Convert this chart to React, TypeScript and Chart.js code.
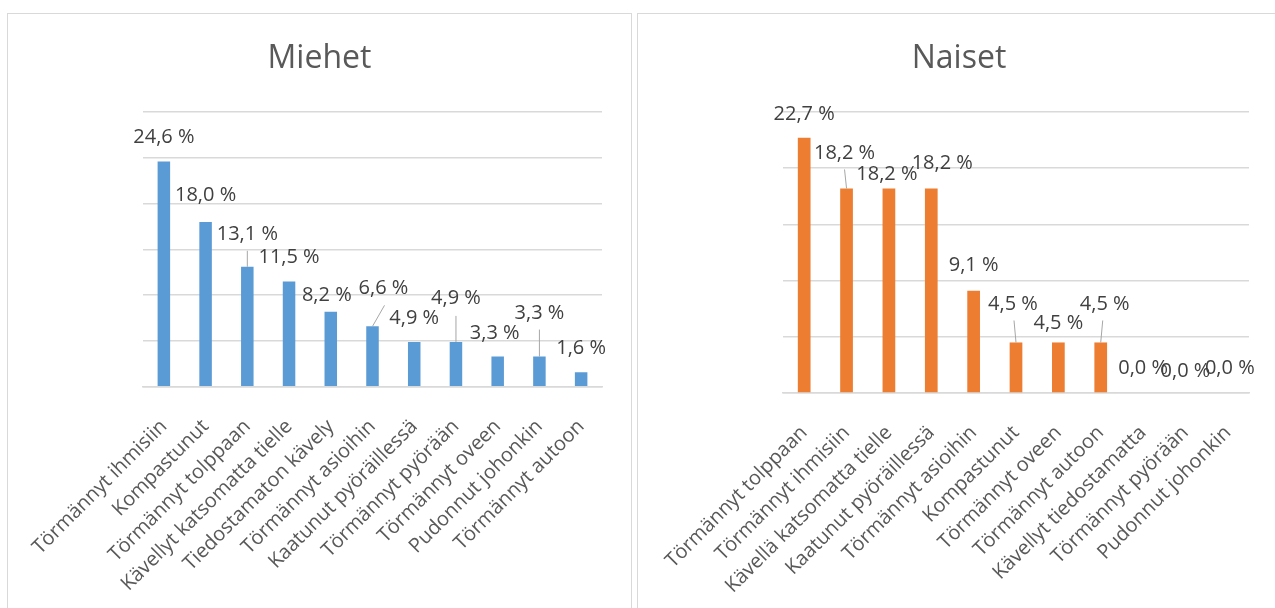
import React, { useEffect, useRef } from "react";
import { Chart, registerables } from "chart.js";

Chart.register(...registerables);

// ---- Data ----
const menCategories = [
  "Törmännyt ihmisiin",
  "Kompastunut",
  "Törmännyt tolppaan",
  "Kävellyt katsomatta tielle",
  "Tiedostamaton kävely",
  "Törmännyt asioihin",
  "Kaatunut pyöräillessä",
  "Törmännyt pyörään",
  "Törmännyt oveen",
  "Pudonnut johonkin",
  "Törmännyt autoon",
];
const menValues = [24.6, 18.0, 13.1, 11.5, 8.2, 6.6, 4.9, 4.9, 3.3, 3.3, 1.6];

const womenCategories = [
  "Törmännyt tolppaan",
  "Törmännyt ihmisiin",
  "Kävellä katsomatta tielle",
  "Kaatunut pyöräillessä",
  "Törmännyt asioihin",
  "Kompastunut",
  "Törmännyt oveen",
  "Törmännyt autoon",
  "Kävellyt tiedostamatta",
  "Törmännyt pyörään",
  "Pudonnut johonkin",
];
const womenValues = [22.7, 18.2, 18.2, 18.2, 9.1, 4.5, 4.5, 4.5, 0.0, 0.0, 0.0];

// label placement relative to bar top (leader = start point of leader line, relative to bar top)
type LabelPos = { dx: number; dy: number; leader?: [number, number] };
const menLabelPos: LabelPos[] = [
  { dx: 0, dy: -24 },
  { dx: 0, dy: -27 },
  { dx: 0, dy: -33, leader: [0, -16] },
  { dx: 0, dy: -24 },
  { dx: -4, dy: -16 },
  { dx: 11, dy: -38, leader: [12, -21] },
  { dx: 0, dy: -24 },
  { dx: 0, dy: -44, leader: [0, -26] },
  { dx: -3, dy: -23 },
  { dx: 0, dy: -43, leader: [0, -27] },
  { dx: 0, dy: -24 },
];
const womenLabelPos: LabelPos[] = [
  { dx: 0, dy: -24 },
  { dx: -2, dy: -35, leader: [-2, -19] },
  { dx: -2, dy: -14 },
  { dx: 11, dy: -25 },
  { dx: 0, dy: -25 },
  { dx: -3, dy: -38, leader: [-2, -22] },
  { dx: 0, dy: -19 },
  { dx: 4, dy: -38, leader: [2, -22] },
  { dx: 0, dy: -25 },
  { dx: 0, dy: -22 },
  { dx: 2, dy: -25 },
];

const FONT = "'Open Sans', 'Noto Sans', sans-serif";

const fmt = (v: number) => v.toFixed(1).replace(".", ",") + " %";

function makeLabelPlugin(pos: LabelPos[], title: string, titleX: number) {
  return {
    id: "valueLabels",
    afterDatasetsDraw(chart: any) {
      const ctx = chart.ctx;
      const meta = chart.getDatasetMeta(0);
      const data = chart.data.datasets[0].data as number[];
      ctx.save();
      meta.data.forEach((bar: any, i: number) => {
        const p = pos[i] || { dx: 0, dy: -24 };
        const x = bar.x;
        const y = bar.y;
        if (p.leader) {
          ctx.strokeStyle = "#a6a6a6";
          ctx.lineWidth = 1;
          ctx.beginPath();
          ctx.moveTo(x + p.leader[0], y + p.leader[1]);
          ctx.lineTo(x, y);
          ctx.stroke();
        }
        ctx.fillStyle = "#404040";
        ctx.font = `20px ${FONT}`;
        ctx.textAlign = "center";
        ctx.textBaseline = "middle";
        ctx.fillText(fmt(data[i]), x + p.dx, y + p.dy);
      });
      // chart title centred on the whole box
      ctx.fillStyle = "#595959";
      ctx.font = `32px ${FONT}`;
      ctx.textAlign = "center";
      ctx.textBaseline = "alphabetic";
      ctx.fillText(title, titleX, 54);
      ctx.restore();
    },
  };
}

type BoxProps = {
  title: string;
  labels: string[];
  values: number[];
  color: string;
  yMax: number;
  pos: LabelPos[];
  left: number;
  width: number;
  canvasOffset: number;
  canvasWidth: number;
  padLeft: number;
  padRight: number;
  padBottom: number;
};

function ChartBox(props: BoxProps) {
  const ref = useRef<HTMLCanvasElement | null>(null);
  const cw = props.canvasWidth;
  const ch = 620;
  const titleX = props.width / 2 - 1 - props.canvasOffset;
  useEffect(() => {
    if (!ref.current) return;
    const chart = new Chart(ref.current, {
      type: "bar",
      data: {
        labels: props.labels,
        datasets: [
          {
            data: props.values,
            backgroundColor: props.color,
            categoryPercentage: 0.3,
            barPercentage: 1,
          },
        ],
      },
      options: {
        responsive: false,
        animation: false,
        devicePixelRatio: 1,
        layout: {
          padding: { left: props.padLeft, right: props.padRight, top: 98, bottom: props.padBottom },
        },
        plugins: {
          legend: { display: false },
          tooltip: { enabled: false },
          title: { display: false },
        },
        scales: {
          x: {
            grid: { display: false, drawTicks: false },
            border: { display: true, color: "#d9d9d9", width: 1.5 },
            ticks: {
              autoSkip: false,
              maxRotation: 45,
              minRotation: 45,
              padding: 28,
              color: "#595959",
              font: { family: FONT, size: 20 },
            },
          },
          y: {
            min: 0,
            max: props.yMax,
            ticks: { display: false, stepSize: 5 },
            grid: { color: "#d9d9d9", lineWidth: 1.5, drawTicks: false },
            border: { display: false },
          },
        },
      },
      plugins: [makeLabelPlugin(props.pos, props.title, titleX)],
    } as any);
    return () => chart.destroy();
  }, []);
  return (
    <div
      style={{
        position: "absolute",
        left: props.left,
        top: 13,
        width: props.width,
        height: ch + 2,
        border: "1px solid #d9d9d9",
        boxSizing: "border-box",
        background: "#fff",
        overflow: "hidden",
      }}
    >
      <canvas
        ref={ref}
        width={cw}
        height={ch}
        style={{ display: "block", position: "absolute", left: props.canvasOffset, top: 0, width: cw, height: ch }}
      />
    </div>
  );
}

export default function App() {
  return (
    <div style={{ position: "absolute", left: 0, top: 0, width: 1275, height: 608, overflow: "hidden", background: "#fff" }}>
      <ChartBox
        title="Miehet"
        labels={menCategories}
        values={menValues}
        color="#5B9BD5"
        yMax={30}
        pos={menLabelPos}
        left={7}
        width={625}
        canvasOffset={-7}
        canvasWidth={630}
        padLeft={142}
        padRight={29}
        padBottom={10}
      />
      <ChartBox
        title="Naiset"
        labels={womenCategories}
        values={womenValues}
        color="#ED7D31"
        yMax={25}
        pos={womenLabelPos}
        left={637}
        width={644}
        canvasOffset={-4}
        canvasWidth={650}
        padLeft={149}
        padRight={35}
        padBottom={8}
      />
    </div>
  );
}
